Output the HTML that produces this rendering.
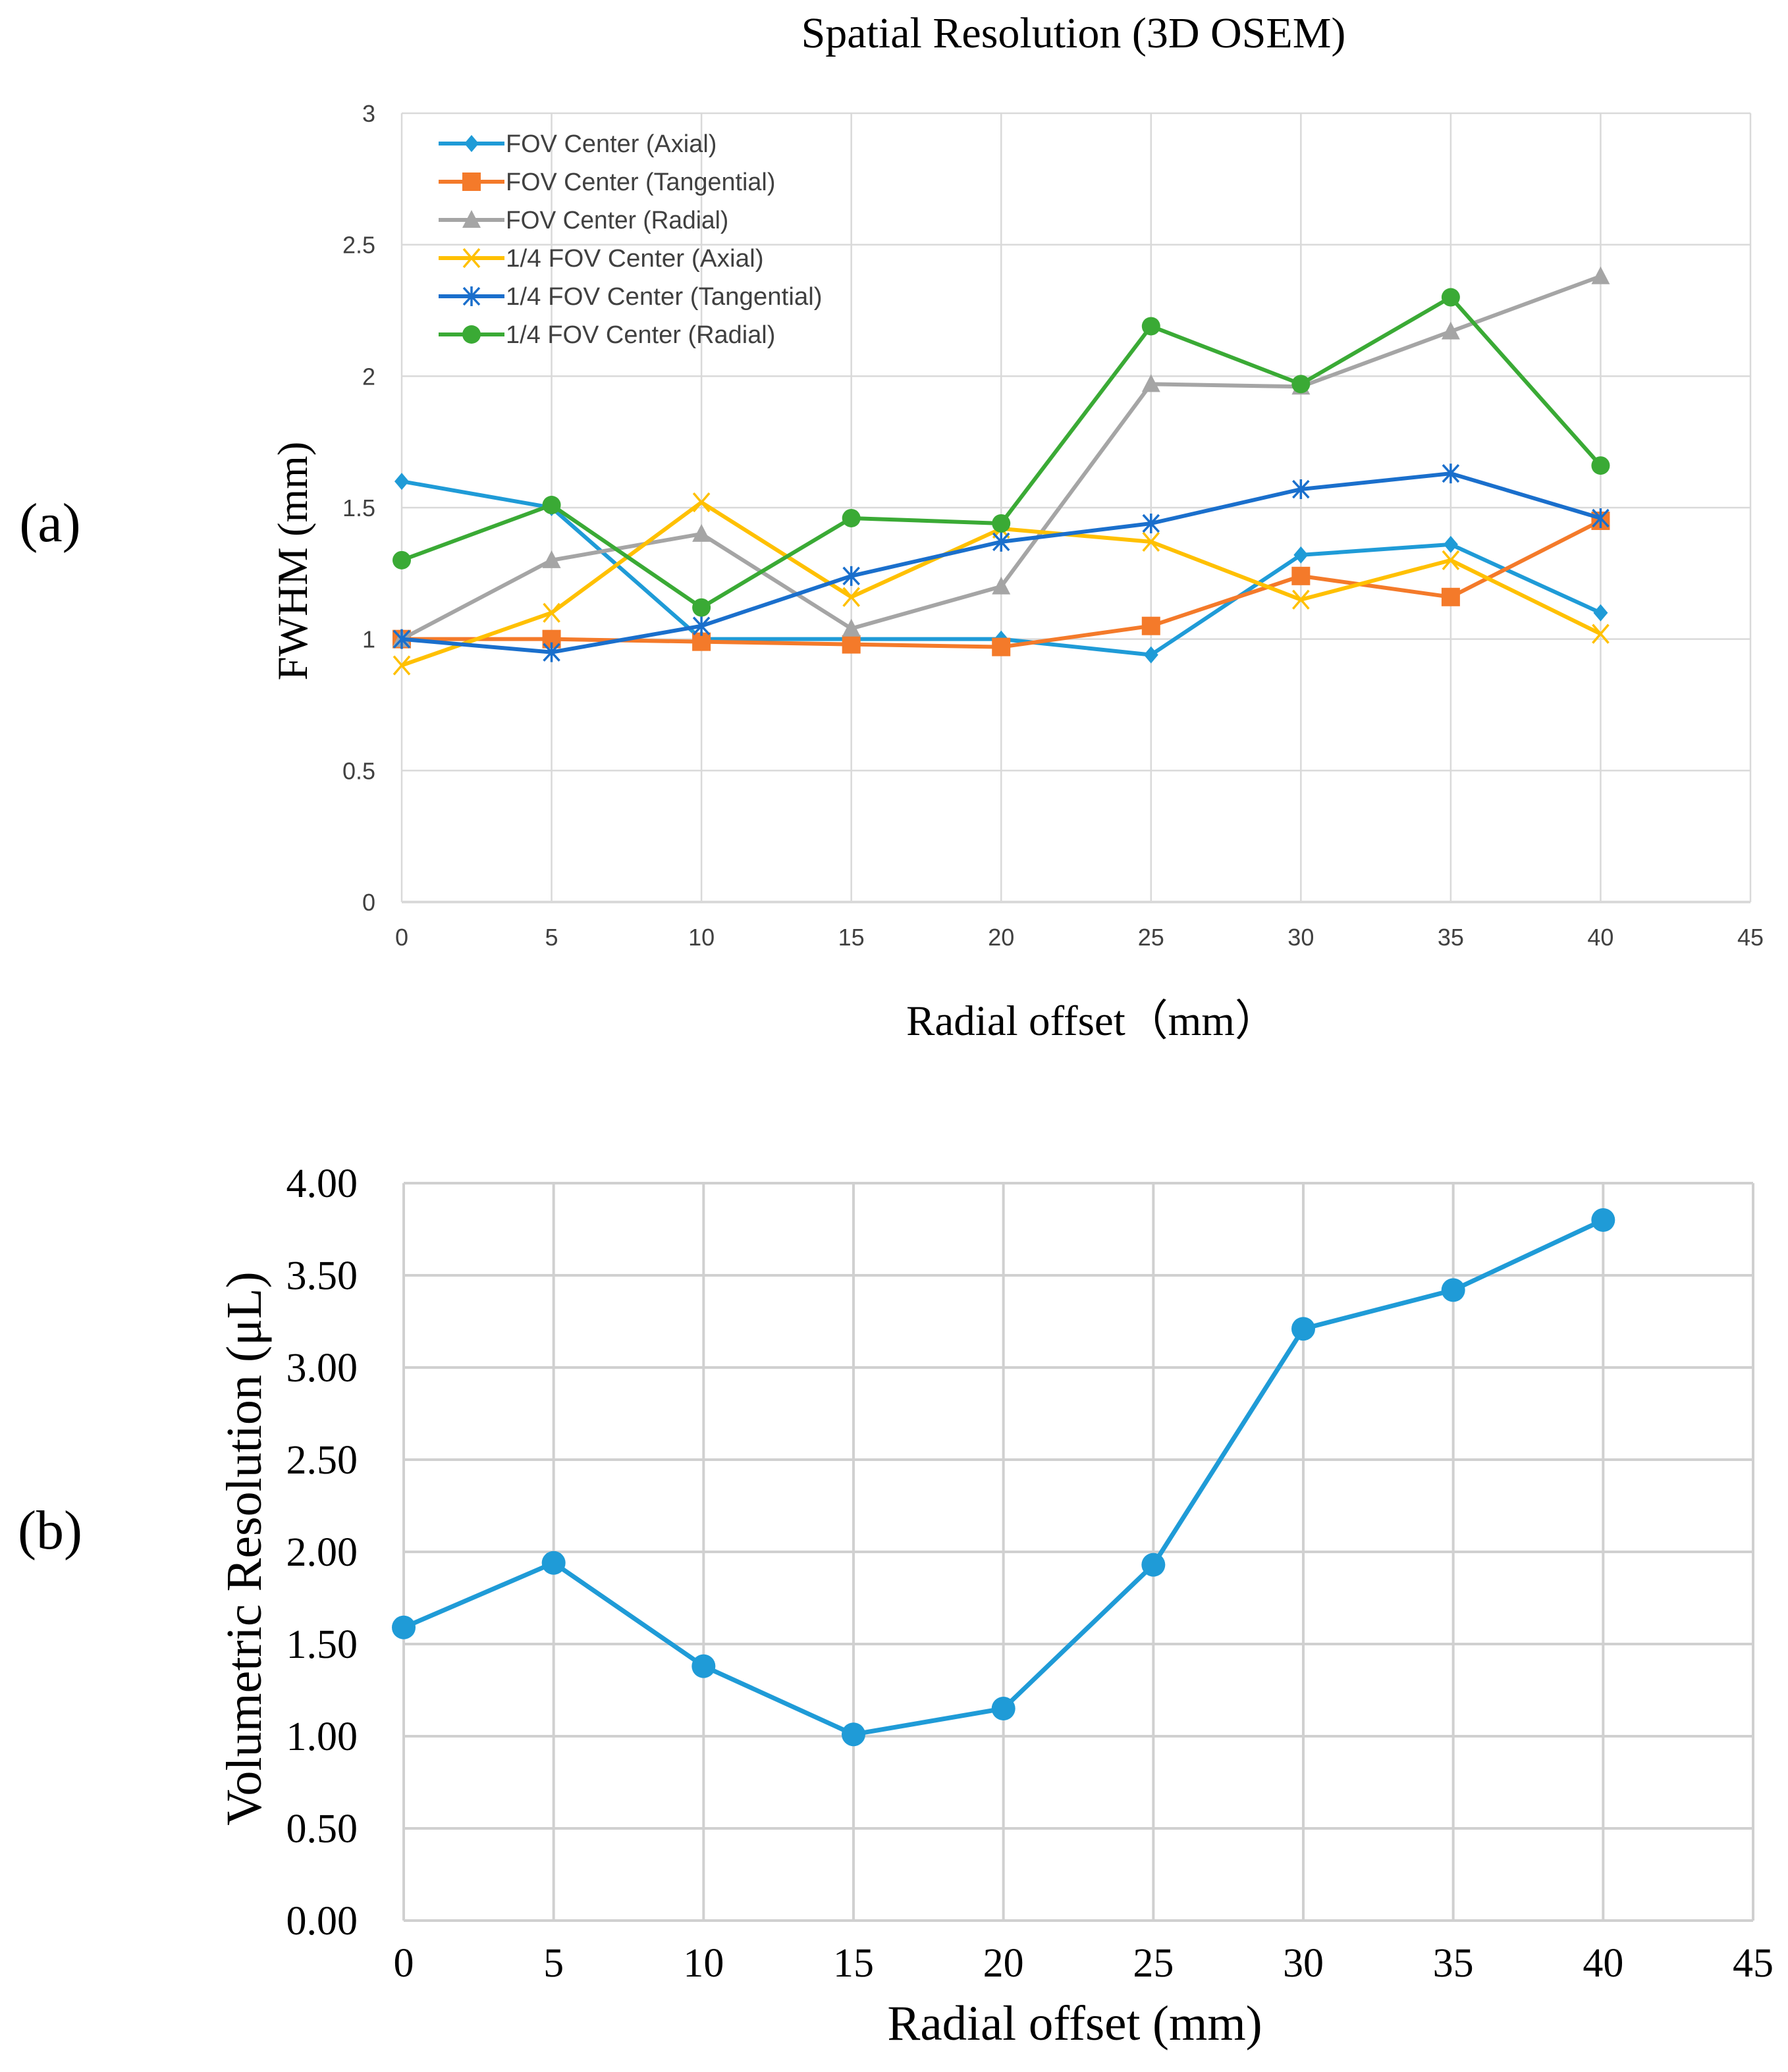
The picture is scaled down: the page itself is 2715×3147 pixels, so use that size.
<!DOCTYPE html>
<html><head><meta charset="utf-8"><style>
html,body{margin:0;padding:0;background:#fff;}
svg{display:block;}
</style></head><body>
<svg id="chart" width="2715" height="3147" viewBox="0 0 2715 3147" xmlns="http://www.w3.org/2000/svg">
<text x="1630" y="72" font-family="Liberation Serif, serif" font-size="66" text-anchor="middle">Spatial Resolution (3D OSEM)</text>
<text x="76" y="822" font-family="Liberation Serif, serif" font-size="84" text-anchor="middle">(a)</text>
<text x="76" y="2352" font-family="Liberation Serif, serif" font-size="84" text-anchor="middle">(b)</text>
<g id="ga"></g>
<g id="gb"></g>
</svg>
<script>
const xCats = [0,5,10,15,20,25,30,35,40];
const xTicks = [0,5,10,15,20,25,30,35,40,45];
const yTicksA = [0,0.5,1,1.5,2,2.5,3];
const yTicksB = [0,0.5,1,1.5,2,2.5,3,3.5,4];
const seriesNames = ["FOV Center (Axial)","FOV Center (Tangential)","FOV Center (Radial)","1/4 FOV Center (Axial)","1/4 FOV Center (Tangential)","1/4 FOV Center (Radial)"];
const fovAxial = [1.6,1.5,1.0,1.0,1.0,0.94,1.32,1.36,1.1];
const fovTang = [1.0,1.0,0.99,0.98,0.97,1.05,1.24,1.16,1.45];
const fovRad = [1.0,1.3,1.4,1.04,1.2,1.97,1.96,2.17,2.38];
const qAxial = [0.9,1.1,1.52,1.16,1.42,1.37,1.15,1.3,1.02];
const qTang = [1.0,0.95,1.05,1.24,1.37,1.44,1.57,1.63,1.46];
const qRad = [1.3,1.51,1.12,1.46,1.44,2.19,1.97,2.3,1.66];
const volRes = [1.59,1.94,1.38,1.01,1.15,1.93,3.21,3.42,3.80];

const NS="http://www.w3.org/2000/svg";
function mk(p,t,a,txt){const e=document.createElementNS(NS,t);for(const k in a)e.setAttribute(k,a[k]);if(txt!==undefined)e.textContent=txt;p.appendChild(e);return e;}

// Chart A
const ga=document.getElementById('ga');
const xA=v=>610+(v/45)*(2658-610);
const yA=v=>1370-(v/3)*(1370-172);
yTicksA.forEach(t=>{
  const l=mk(ga,'line',{x1:xA(0),x2:xA(45),y1:yA(t),y2:yA(t),stroke:'#d9d9d9','stroke-width':t===0?4:2.5});
  
  
  const tx=mk(ga,'text',{x:570,y:yA(t)+13,'font-family':'Liberation Sans, sans-serif','font-size':36,fill:'#404040','text-anchor':'end'},String(t));
  
  
});
xTicks.forEach(t=>{
  const l=mk(ga,'line',{x1:xA(t),x2:xA(t),y1:yA(0),y2:yA(3),stroke:'#d9d9d9','stroke-width':2.5});
  
  
  const tx=mk(ga,'text',{x:xA(t),y:1436,'font-family':'Liberation Sans, sans-serif','font-size':36,fill:'#404040','text-anchor':'middle'},String(t));
  
  
});
let t1=mk(ga,'text',{x:1658,y:1572,'font-family':'Liberation Serif, serif','font-size':65,'text-anchor':'middle'},'Radial offset（mm）');


let t2=mk(ga,'text',{x:0,y:0,'font-family':'Liberation Serif, serif','font-size':65,'text-anchor':'middle',transform:'translate(466,852) rotate(-90)'},'FWHM (mm)');



const colors=['#1f9bd7','#f47a2a','#a5a5a5','#ffc000','#1a6fcc','#3aaa35'];
const datas=[fovAxial,fovTang,fovRad,qAxial,qTang,qRad];
function marker(g,type,x,y,c){
  let m;
  if(type===0) m=mk(g,'polygon',{points:`${x},${y-13} ${x+11},${y} ${x},${y+13} ${x-11},${y}`,fill:c});
  else if(type===1) m=mk(g,'rect',{x:x-14,y:y-14,width:28,height:28,fill:c});
  else if(type===2) m=mk(g,'polygon',{points:`${x},${y-15} ${x+14},${y+12} ${x-14},${y+12}`,fill:c});
  else if(type===3) m=mk(g,'path',{d:`M${x-12},${y-14}L${x+12},${y+14}M${x+12},${y-14}L${x-12},${y+14}`,stroke:c,'stroke-width':3.5,fill:'none'});
  else if(type===4) m=mk(g,'path',{d:`M${x-12},${y-13}L${x+12},${y+13}M${x+12},${y-13}L${x-12},${y+13}M${x},${y-15}L${x},${y+15}`,stroke:c,'stroke-width':3.5,fill:'none'});
  else m=mk(g,'circle',{cx:x,cy:y,r:14,fill:c});
  return m;
}
datas.forEach((d,i)=>{
  const g=mk(ga,'g',{});
  
  
  const pts=d.map((v,j)=>xA(xCats[j])+','+yA(v)).join(' ');
  const pl=mk(g,'polyline',{points:pts,fill:'none',stroke:colors[i],'stroke-width':6,'stroke-linejoin':'round'});
  
  
  d.forEach((v,j)=>{
    const m=marker(g,i,xA(xCats[j]),yA(v),colors[i]);
    
    
  });
  const ly=218+i*58;
  const lg=mk(ga,'g',{});
  
  
  mk(lg,'line',{x1:666,x2:766,y1:ly,y2:ly,stroke:colors[i],'stroke-width':6});
  marker(lg,i,716,ly,colors[i]);
  mk(lg,'text',{x:768,y:ly+13,'font-family':'Liberation Sans, sans-serif','font-size':38,fill:'#404040',textLength:seriesNames[i].length*17.8,lengthAdjust:'spacingAndGlyphs'},seriesNames[i]);
});

// Chart B
const gb=document.getElementById('gb');
const xB=v=>613+(v/45)*(2662-613);
const yB=v=>2917-(v/4)*(2917-1797);
yTicksB.forEach(t=>{
  const l=mk(gb,'line',{x1:xB(0),x2:xB(45),y1:yB(t),y2:yB(t),stroke:'#d0d0d0','stroke-width':4});
  
  
  const tx=mk(gb,'text',{x:543,y:yB(t)+21,'font-family':'Liberation Serif, serif','font-size':62,'text-anchor':'end'},t.toFixed(2));
  
  
});
xTicks.forEach(t=>{
  const l=mk(gb,'line',{x1:xB(t),x2:xB(t),y1:yB(0),y2:yB(4),stroke:'#d0d0d0','stroke-width':4});
  
  
  const tx=mk(gb,'text',{x:xB(t),y:3002,'font-family':'Liberation Serif, serif','font-size':62,'text-anchor':'middle'},String(t));
  
  
});
let t3=mk(gb,'text',{x:1632,y:3098,'font-family':'Liberation Serif, serif','font-size':75,'text-anchor':'middle'},'Radial offset (mm)');


let t4=mk(gb,'text',{x:0,y:0,'font-family':'Liberation Serif, "DejaVu Serif", serif','font-size':76,'text-anchor':'middle',transform:'translate(396,2352) rotate(-90)'},'Volumetric Resolution (μL)');


const pb=mk(gb,'polyline',{points:volRes.map((v,j)=>xB(xCats[j])+','+yB(v)).join(' '),fill:'none',stroke:'#1f9bd7','stroke-width':7,'stroke-linejoin':'round'});


volRes.forEach((v,j)=>{
  const c=mk(gb,'circle',{cx:xB(xCats[j]),cy:yB(v),r:18,fill:'#1f9bd7'});
  
  
});
</script>
</body></html>
